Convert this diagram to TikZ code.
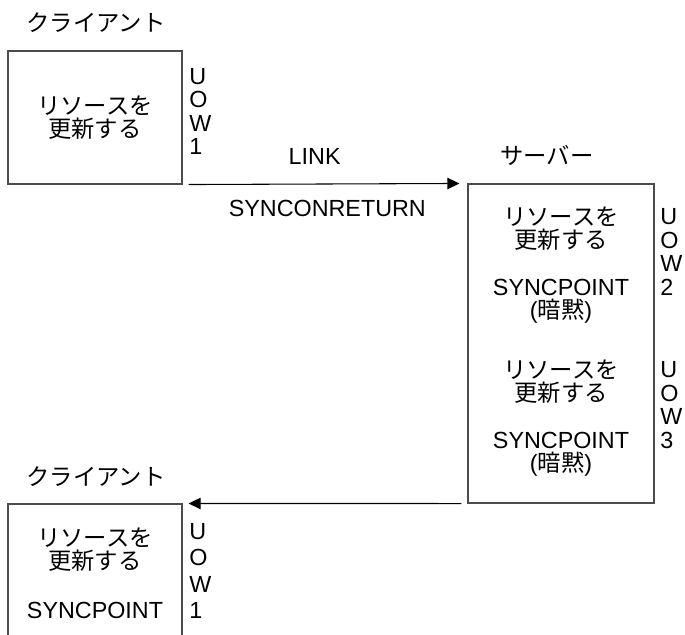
\documentclass[tikz,border=0pt]{standalone}
\usepackage{fontspec}
\setmainfont{Liberation Sans}
\newfontfamily\jp{Noto Sans CJK JP}
\usetikzlibrary{positioning,arrows.meta}

\begin{document}
\begin{tikzpicture}[x=0.75pt, y=-0.75pt, font=\fontsize{17.5}{17.3}\selectfont,
  box/.style={draw=black!70, line width=0.8pt, inner sep=0pt},
  txt/.style={align=center, inner sep=0pt},
  uow/.style={align=left, inner sep=0pt, anchor=west},
  flow/.style={draw=black, line width=0.8pt, -{Triangle[length=9pt,width=8.5pt]}}]
  \useasboundingbox (0,0) rectangle (685,635);

  % client, first part
  \node[txt] (client) at (96,23) {\jp クライアント};
  \node[box, txt, minimum width=130.5pt, minimum height=99.75pt] (upd) at (95,117.5)
    {\jp リソースを\\\jp 更新する};
  \node[uow, font=\fontsize{17.5}{17.6}\selectfont] (uow1) at (189,111.5) {U\\O\\W\\1};

  % server
  \node[box, minimum width=139.5pt, minimum height=239.25pt] (srv) at (561,343.5) {};
  \node[txt] (server) at (547,155) {\jp サーバー};
  \node[txt] (supd1) at (561,228.5) {\jp リソースを\\\jp 更新する};
  \node[txt] (ssync1) at (561,301.5) {SYNCPOINT\\({\jp 暗黙})};
  \node[txt] (supd2) at (561,381.5) {\jp リソースを\\\jp 更新する};
  \node[txt] (ssync2) at (561,454.5) {SYNCPOINT\\({\jp 暗黙})};
  \node[uow, font=\fontsize{17.5}{17.6}\selectfont] (uow2) at (660,252) {U\\O\\W\\2};
  \node[uow, font=\fontsize{17.5}{17.6}\selectfont] (uow3) at (660,405) {U\\O\\W\\3};

  % client, after return
  \node[txt] (client2) at (96,477) {\jp クライアント};
  \node[box, minimum width=130.5pt, minimum height=132pt] (bot) at (95,592) {};
  \node[txt] (bupd) at (95,550) {\jp リソースを\\\jp 更新する};
  \node[txt] (bsync) at (95,610) {SYNCPOINT};
  \node[uow, font=\fontsize{17.5}{19.9}\selectfont] (uow4) at (189,571) {U\\O\\W\\1};

  \draw[flow] ([xshift=4.5pt]upd.south east) -- node[above=14pt, inner sep=0pt, xshift=-7pt] (link) {LINK}
    node[below=12pt, inner sep=0pt, xshift=2.5pt] (synret) {SYNCONRETURN} ([xshift=-6pt]srv.north west);
  \draw[flow] ([xshift=-4.5pt]srv.south west) -- ([xshift=4.5pt]bot.north east);
\end{tikzpicture}
\end{document}
